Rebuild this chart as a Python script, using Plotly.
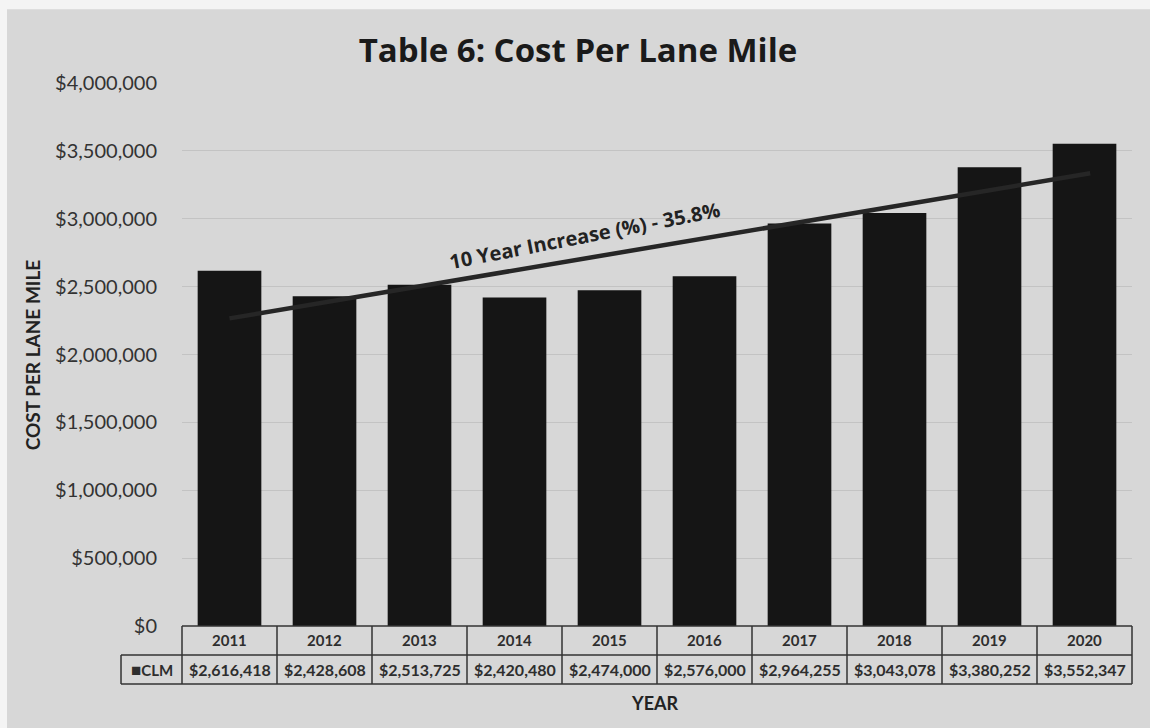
import numpy as np
import plotly.graph_objects as go

# Cost per lane mile by year
years = ["2011", "2012", "2013", "2014", "2015", "2016", "2017", "2018", "2019", "2020"]
clm = [2616418, 2428608, 2513725, 2420480, 2474000, 2576000, 2964255, 3043078, 3380252, 3552347]
series_name = "CLM"
y_ticks = [0, 500000, 1000000, 1500000, 2000000, 2500000, 3000000, 3500000, 4000000]
y_tick_text = [f"${v:,}" for v in y_ticks]

BG = "#d7d7d7"
TXT = "#2e2e2e"
FONT = "Lato"

idx = np.arange(len(years))
x_range = [-0.5, len(years) - 0.5]

# linear trend over the ten years
slope, intercept = np.polyfit(idx, clm, 1)
trend_x = [idx[0], idx[-1] + 0.06]
trend_y = [intercept + slope * x for x in trend_x]
pct_increase = (clm[-1] - clm[0]) / clm[0] * 100

fig = go.Figure()
fig.add_trace(go.Bar(
    x=idx, y=clm, width=0.67, name=series_name,
    marker=dict(color="#151515", line=dict(width=0)),
    hoverinfo="skip",
))
fig.add_trace(go.Scatter(
    x=trend_x, y=trend_y, mode="lines",
    line=dict(color="#262626", width=4.5),
    hoverinfo="skip",
))


def xpaper(v):
    return (v - x_range[0]) / (x_range[1] - x_range[0])


# data table under the plot
row_top, row_mid, row_bot = 0.0, -0.0534, -0.1068
legend_left = -0.0642
line_style = dict(color="#333333", width=1.5)
shapes = [
    # page border strips
    dict(type="rect", xref="paper", yref="paper", x0=-0.25, x1=-0.1842, y0=-0.3, y1=1.3,
         fillcolor="#f4f4f4", line=dict(width=0), layer="below"),
    dict(type="rect", xref="paper", yref="paper", x0=-0.25, x1=1.1, y0=1.136, y1=1.3,
         fillcolor="#f4f4f4", line=dict(width=0), layer="below"),
    dict(type="line", xref="paper", yref="paper", x0=0, x1=1, y0=row_top, y1=row_top, line=line_style),
    dict(type="line", xref="paper", yref="paper", x0=legend_left, x1=1, y0=row_mid, y1=row_mid, line=line_style),
    dict(type="line", xref="paper", yref="paper", x0=legend_left, x1=1, y0=row_bot, y1=row_bot, line=line_style),
    dict(type="line", xref="paper", yref="paper", x0=legend_left, x1=legend_left, y0=row_mid, y1=row_bot,
         line=line_style),
]
for b in np.arange(len(years) + 1) - 0.5:
    shapes.append(dict(type="line", xref="paper", yref="paper", x0=xpaper(b), x1=xpaper(b),
                       y0=row_top, y1=row_bot, line=line_style))

annotations = []
for i, (yr, v) in enumerate(zip(years, clm)):
    annotations.append(dict(x=i, y=(row_top + row_mid) / 2, xref="x", yref="paper", text=yr,
                            xanchor="center", yanchor="middle", showarrow=False,
                            font=dict(family=FONT, size=15, color=TXT, weight="bold")))
    annotations.append(dict(x=i, y=(row_mid + row_bot) / 2, xref="x", yref="paper", text=f"${v:,}",
                            xanchor="center", yanchor="middle", showarrow=False,
                            font=dict(family=FONT, size=16, color=TXT, weight="bold")))

annotations += [
    dict(x=legend_left / 2, y=(row_mid + row_bot) / 2, xref="paper", yref="paper",
         text="<span style='font-size:17px'>■</span>" + series_name, showarrow=False,
         xanchor="center", yanchor="middle",
         font=dict(family=FONT, size=15, color=TXT, weight="bold")),
    dict(x=0.498, y=-0.1418, xref="paper", yref="paper", text="YEAR", showarrow=False,
         xanchor="center", yanchor="middle",
         font=dict(family=FONT, size=18, color="#222222", weight="bold")),
    dict(x=-0.157, y=0.5, xref="paper", yref="paper", text="COST PER LANE MILE", showarrow=False,
         xanchor="center", yanchor="middle", textangle=-90,
         font=dict(family=FONT, size=19, color="#222222", weight="bold")),
    dict(x=3.74, y=2880000, xref="x", yref="y", text=f"10 Year Increase (%) - {pct_increase:.1f}%",
         showarrow=False, textangle=-11, xanchor="center", yanchor="middle",
         font=dict(family="Open Sans", size=20, color="#222222", weight="bold")),
]

fig.update_layout(
    width=1150, height=728,
    margin=dict(l=182, r=18, t=83, b=102),
    paper_bgcolor=BG, plot_bgcolor=BG,
    showlegend=False,
    title=dict(text="<b>Table 6: Cost Per Lane Mile</b>", x=0.5026, xanchor="center",
               y=0.931, yanchor="middle",
               font=dict(family="Open Sans", size=33, color="#1a1a1a")),
    xaxis=dict(range=x_range, showticklabels=False, showgrid=False, zeroline=False,
               showline=False, ticks=""),
    yaxis=dict(range=[0, 4000000], tickvals=y_ticks, ticktext=y_tick_text,
               showgrid=True, gridcolor="#c3c3c3", gridwidth=1, zeroline=False,
               showline=False, ticks="", ticklabelstandoff=24,
               tickfont=dict(family=FONT, size=20, color="#333333")),
    shapes=shapes,
    annotations=annotations,
    bargap=0.33,
)

fig.write_html("out.html")
